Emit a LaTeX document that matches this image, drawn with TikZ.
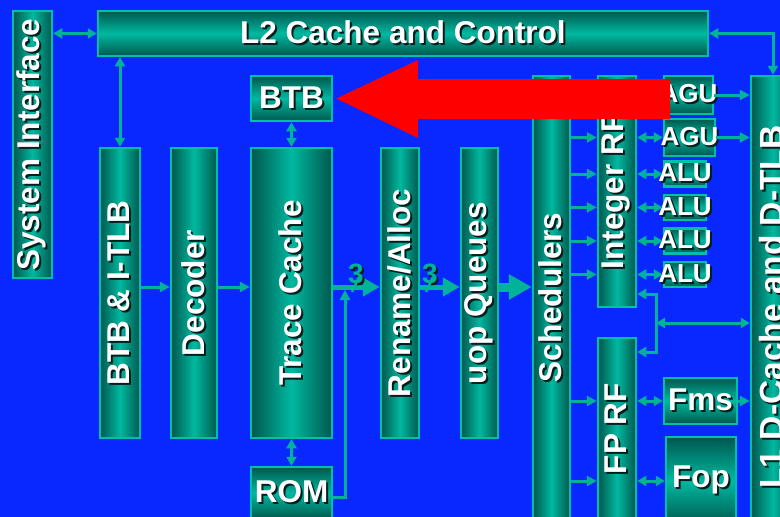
\documentclass[tikz,border=0pt]{standalone}
\usepackage{fontspec}
\setmainfont{Liberation Sans}
\usetikzlibrary{arrows.meta}

\definecolor{bgblue}{RGB}{8,40,255}
\definecolor{tealdk}{RGB}{0,88,78}
\definecolor{tealbr}{RGB}{0,184,160}
\definecolor{tealbd}{RGB}{0,192,168}
\definecolor{tealln}{RGB}{0,178,152}
\definecolor{txtshade}{RGB}{0,30,28}

%% white text with a dark drop shadow (horizontal / rotated)
\newcommand\shh[1]{\makebox[0pt][l]{\hspace{2pt}\raisebox{-2pt}{\color{txtshade}#1}}#1}
\newcommand\shv[1]{\makebox[0pt][l]{\hspace{-2pt}\raisebox{-2pt}{\color{txtshade}#1}}#1}
\newcommand\vtxt[1]{\rotatebox{90}{\shv{#1}}}

\tikzset{
  blk/.style={draw=tealbd, line width=2.5pt, inner sep=0pt, text=white,
    font=\bfseries\fontsize{31.5}{36}\selectfont},
  hblk/.style={blk, top color=tealdk, bottom color=tealdk, middle color=tealbr},
  vblk/.style={blk, left color=tealdk, right color=tealdk, middle color=tealbr},
  alufont/.style={font=\bfseries\fontsize{26}{30}\selectfont},
  conn/.style={draw=tealln, line width=3pt},
  arr/.style={conn, -{Triangle[length=10pt,width=10pt]}},
  dbl/.style={conn, {Triangle[length=9pt,width=10pt]}-{Triangle[length=9pt,width=10pt]}},
  bus/.style={draw=tealln, line width=5pt, -{Triangle[length=17pt,width=18pt]}},
  fatbus/.style={draw=tealln, line width=9pt, -{Triangle[length=23pt,width=24pt]}},
  buslbl/.style={text=tealln, inner sep=0pt, font=\bfseries\fontsize{28}{30}\selectfont},
  hlarrow/.style={fill=red},
}

\begin{document}
\begin{tikzpicture}[x=1pt,y=-1pt]
\useasboundingbox (0,0) rectangle (780,517);
\clip (0,0) rectangle (780,517);
\fill[bgblue] (0,0) rectangle (780,517);

%% Front end
\node[vblk, minimum width=39pt, minimum height=267pt] (sysif) at (32.5,144.5) {\vtxt{System Interface}};
\node[hblk, minimum width=610pt, minimum height=45pt] (l2) at (403,33.5) {\shh{L2 Cache and Control}};
\node[vblk, minimum width=40pt, minimum height=290pt] (btbitlb) at (120,293) {\vtxt{BTB \& I-TLB}};
\node[vblk, minimum width=46pt, minimum height=290pt] (decoder) at (194,293) {\vtxt{Decoder}};
\node[vblk, minimum width=81pt, minimum height=290pt] (trace) at (291.5,293) {\vtxt{Trace Cache}};
\node[hblk, minimum width=81pt, minimum height=45pt] (btb) at (291.5,98.5) {\shh{BTB}};
\node[hblk, minimum width=81pt, minimum height=52pt] (rom) at (291.5,493) {\shh{ROM}};
\node[vblk, minimum width=38pt, minimum height=290pt] (rename) at (400,293) {\vtxt{Rename/Alloc}};
\node[vblk, minimum width=37pt, minimum height=290pt] (uopq) at (479.5,293) {\vtxt{uop Queues}};

%% Back end (boxes running off the bottom edge)
\node[vblk, minimum width=37pt, minimum height=443pt] (sched) at (551.5,297.5) {\vtxt{Schedulers}};
\node[vblk, minimum width=38pt, minimum height=231pt] (intrf) at (617,191.5) {\vtxt{Integer RF}};
\node[vblk, minimum width=38pt, minimum height=181pt] (fprf) at (617,428.5) {\vtxt{FP RF}};
\node[hblk, alufont, minimum width=49pt, minimum height=38pt] (agua) at (688.5,95) {\makebox[0pt]{\shh{AGU}}};
\node[hblk, alufont, minimum width=51pt, minimum height=37pt] (agub) at (689.5,137.5) {\makebox[0pt]{\shh{AGU}}};
\foreach \i/\y in {1/174,2/207.5,3/241,4/274.5}
  \node[hblk, alufont, minimum width=42pt, minimum height=25pt] (alu\i) at (685,\y) {\makebox[0pt]{\shh{ALU}}};
\node[hblk, minimum width=73pt, minimum height=46pt] (fms) at (700.5,401) {\shh{Fms}};
\node[hblk, minimum width=70pt, minimum height=88pt] (fop) at (701,481) {\shh{Fop}};
\node[vblk, font=\bfseries\fontsize{33.5}{38}\selectfont, minimum width=44pt, minimum height=462pt] (l1) at (773,307) {\vtxt{L1 D-Cache and D-TLB}};

%% Connectors
\coordinate (row) at (0,287);
\draw[dbl] (sysif.east |- l2.west) -- (l2.west);
\draw[dbl] (l2.south -| btbitlb.north) -- (btbitlb.north);
\draw[dbl] (l2.east) -| (l1.north);
\draw[dbl] (btb.south) -- (trace.north);
\draw[dbl] (trace.south) -- (rom.north);
\draw[arr] (btbitlb.east |- row) -- (decoder.west |- row);
\draw[arr] (decoder.east |- row) -- (trace.west |- row);
\draw[bus] (trace.east |- row) -- (rename.west |- row);
\draw[bus] (rename.east |- row) -- (uopq.west |- row);
\draw[fatbus] (uopq.east |- row) -- (sched.west |- row);
\coordinate (romin) at (345,290);
\draw[arr] ([yshift=-4pt]rom.east) -| (romin);

\node[buslbl] (wa) at (356,275) {\shh{3}};
\node[buslbl] (wb) at (430,275) {\shh{3}};
\draw[tealln, line width=2.5pt] ([shift={(-4,17)}]wa.center) -- ++(7,-15);
\draw[tealln, line width=2.5pt] ([shift={(-4,17)}]wb.center) -- ++(7,-15);

\foreach \n in {agub,alu1,alu2,alu3,alu4} {
  \draw[arr] (sched.east |- \n) -- (intrf.west |- \n);
  \draw[dbl] (intrf.east |- \n) -- (\n.west);
}
\draw[arr] (agua.east) -- (l1.west |- agua);
\draw[arr] (agub.east) -- (l1.west |- agub);

\coordinate (jt) at (656,294);
\coordinate (jm) at (656,323);
\coordinate (jb) at (656,352);
\draw[dbl] (intrf.east |- jt) -- (jt) -- (jb) -- (fprf.east |- jb);
\draw[dbl] (jm) -- (l1.west |- jm);

\draw[arr] (sched.east |- fms) -- (fprf.west |- fms);
\draw[dbl] (fprf.east |- fms) -- (fms.west);
\draw[arr] (fms.east) -- (l1.west |- fms);
\draw[arr] (sched.east |- fop) -- (fprf.west |- fop);
\draw[dbl] (fprf.east |- fop) -- (fop.west);

%% Highlight arrow
\fill[hlarrow] ([xshift=3pt]btb.east) -- (418,60) -- (418,79) -- (670,79)
  -- (670,119) -- (418,119) -- (418,138) -- cycle;
\end{tikzpicture}
\end{document}
